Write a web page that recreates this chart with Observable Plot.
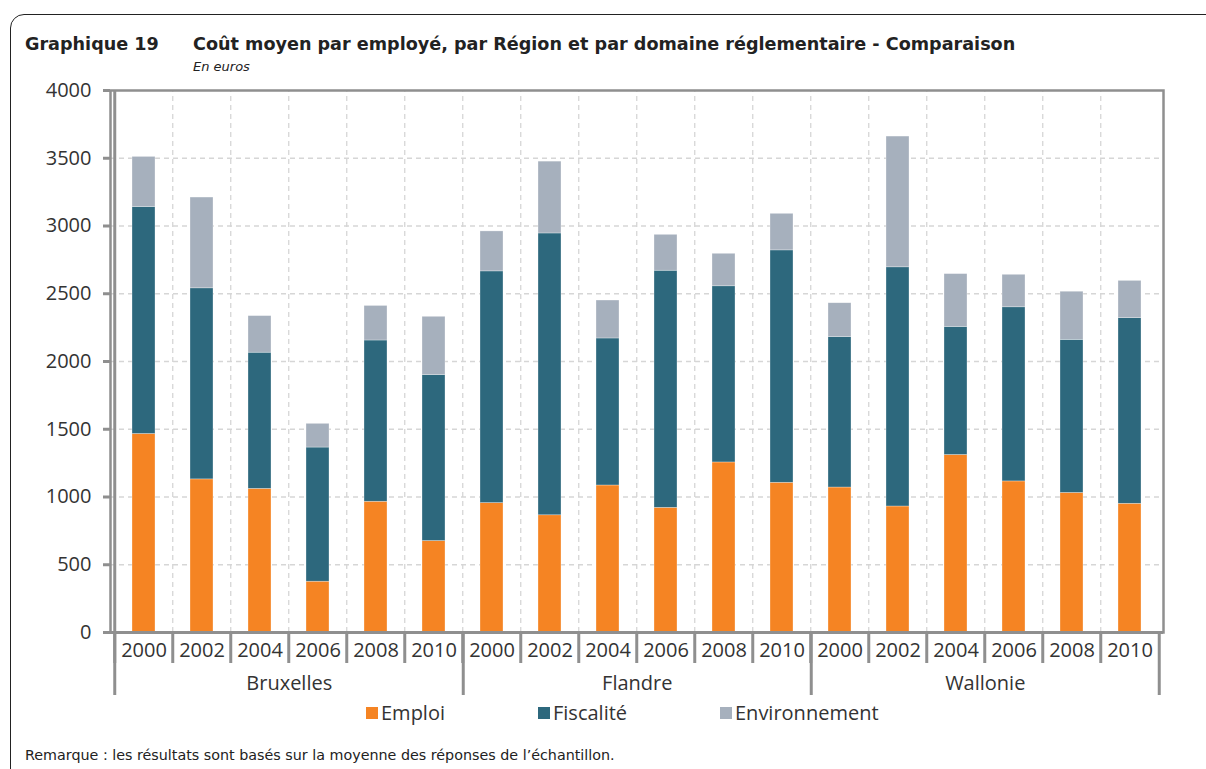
<!DOCTYPE html>
<html>
<head>
<meta charset="utf-8">
<script src="https://cdn.jsdelivr.net/npm/d3@7"></script>
<script src="https://cdn.jsdelivr.net/npm/@observablehq/plot@0.6"></script>
<style>
  html, body { margin: 0; padding: 0; background: #fff; }
  body { width: 1206px; height: 769px; position: relative; overflow: hidden; font-family: "Open Sans", sans-serif; color: #222; }
  #frame { position: absolute; left: 10px; top: 14px; width: 1260px; height: 820px; border: 1.5px solid #222; border-radius: 14px; box-sizing: border-box; }
  .t { position: absolute; white-space: nowrap; }
  #num { left: 25px; top: 34px; font-size: 17.6px; font-weight: bold; font-family: "DejaVu Sans", sans-serif; }
  #title { left: 193px; top: 34px; font-size: 17.6px; font-weight: bold; font-family: "DejaVu Sans", sans-serif; }
  #sub { left: 193px; top: 59px; font-size: 13px; font-style: italic; font-family: "DejaVu Sans", sans-serif; }
  #chart { position: absolute; left: 0; top: 78px; }
  .lg { position: absolute; top: 699px; font-size: 20px; color: #333; display: flex; align-items: center; }
  .lg span.sw { display: inline-block; width: 12px; height: 12px; margin-right: 3px; }
  #cap { left: 25px; top: 747px; font-size: 14.3px; font-family: "DejaVu Sans", sans-serif; }
</style>
</head>
<body>
<div id="frame"></div>
<div class="t" id="num">Graphique 19</div>
<div class="t" id="title">Coût moyen par employé, par Région et par domaine réglementaire - Comparaison</div>
<div class="t" id="sub">En euros</div>
<div id="chart"></div>
<div id="legend"></div>
<div class="t" id="cap">Remarque : les résultats sont basés sur la moyenne des réponses de l’échantillon.</div>
<script>
const regions = ["Bruxelles", "Flandre", "Wallonie"];
const years = ["2000", "2002", "2004", "2006", "2008", "2010"];
const domains = ["Emploi", "Fiscalité", "Environnement"];
const colors = ["#F58423", "#2D687D", "#A6B0BD"];
// per region x year (Bruxelles 2000..2010, Flandre 2000..2010, Wallonie 2000..2010)
const emploi =        [1465, 1130, 1060,  375,  965,  675,   955,  865, 1085,  920, 1255, 1105,  1070,  930, 1310, 1115, 1030,  950];
const fiscalite =     [1675, 1410, 1005,  990, 1190, 1225,  1710, 2080, 1085, 1750, 1300, 1715,  1110, 1765,  945, 1285, 1130, 1370];
const environnement = [ 370,  670,  270,  175,  255,  430,   295,  530,  280,  265,  240,  270,   250,  965,  390,  240,  355,  275];
const yTicks = [0, 500, 1000, 1500, 2000, 2500, 3000, 3500, 4000];

const series = [emploi, fiscalite, environnement];
const keys = regions.flatMap(r => years.map(y => r + "|" + y));
const rows = [];
keys.forEach((k, i) => {
  domains.forEach((d, j) => rows.push({key: k, region: k.split("|")[0], year: k.split("|")[1], domain: d, value: series[j][i]}));
});

const W = 1206, H = 624, ML = 110, MR = 43, MT = 12, MB = 70;
const step = (W - ML - MR) / keys.length;
const pxPerUnit = (H - MT - MB) / 4000;
const yDown = px => -px / pxPerUnit;
const gray = "#8f8f8f";
const lastKeys = regions.map(r => r + "|" + years[years.length - 1]);
const midKeys = regions.map(r => r + "|" + years[2]);

const chart = Plot.plot({
  width: W, height: H,
  marginLeft: ML, marginRight: MR, marginTop: MT, marginBottom: MB,
  style: {fontFamily: "'Open Sans', sans-serif", background: "transparent", overflow: "visible"},
  x: {type: "band", domain: keys, paddingInner: 0.6, paddingOuter: 0.3, axis: null, label: null},
  y: {domain: [0, 4000], axis: null, label: null},
  color: {domain: domains, range: colors},
  marks: [
    // horizontal grid
    Plot.ruleY(yTicks.filter(v => v > 0 && v < 4000), {stroke: "#d6d6d6", strokeWidth: 1.3, strokeDasharray: "5,4"}),
    // vertical grid at category boundaries
    Plot.ruleX(keys.slice(1), {y1: 0, y2: 4000, dx: -step / 2, stroke: "#d6d6d6", strokeWidth: 1.3, strokeDasharray: "5,4"}),
    // stacked bars
    Plot.barY(rows, {x: "key", y: "value", fill: "domain", order: domains, stroke: "#ffffff", strokeWidth: 0.6, strokeOpacity: 0.5}),
    Plot.frame({stroke: gray, strokeWidth: 2.5}),
    // y axis
    Plot.ruleX([keys[0]], {y1: 0, y2: 4000, dx: -step / 2, stroke: gray, strokeWidth: 3}),
    Plot.ruleY([0], {stroke: gray, strokeWidth: 3}),
    Plot.axisY({ticks: yTicks, label: null, tickSize: 7, tickPadding: 12, fontSize: 20, fill: "#333", stroke: gray, strokeWidth: 3, tickFormat: d => String(d)}),
    // category separators
    Plot.ruleX(keys, {y1: 0, y2: yDown(31), dx: -step / 2, stroke: gray, strokeWidth: 3}),
    Plot.ruleX(lastKeys, {y1: 0, y2: yDown(63), dx: step / 2, stroke: gray, strokeWidth: 3}),
    Plot.ruleX([keys[0]], {y1: 0, y2: yDown(63), dx: -step / 2, stroke: gray, strokeWidth: 3}),
    // year labels
    Plot.text(keys, {x: d => d, y: yDown(18), text: d => d.split("|")[1], fontSize: 20, fill: "#333"}),
    // region labels
    Plot.text(midKeys, {x: d => d, y: yDown(51), dx: step / 2, text: d => d.split("|")[0], fontSize: 20, fill: "#333"})
  ]
});
document.getElementById("chart").appendChild(chart);

const legendX = [366, 538, 720];
const lg = document.getElementById("legend");
domains.forEach((d, i) => {
  const el = document.createElement("div");
  el.className = "lg";
  el.style.left = legendX[i] + "px";
  el.innerHTML = `<span class="sw" style="background:${colors[i]}"></span>${d}`;
  lg.appendChild(el);
});
</script>
</body>
</html>
